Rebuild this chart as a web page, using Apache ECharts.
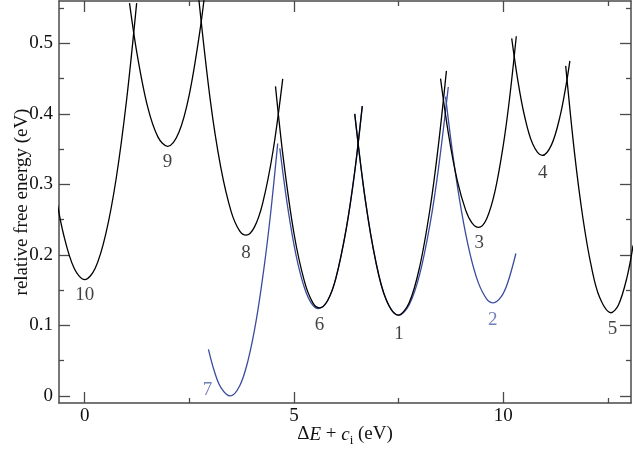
<!DOCTYPE html>
<html><head><meta charset="utf-8">
<script src="https://cdn.jsdelivr.net/npm/echarts@6/dist/echarts.min.js"></script>
<style>html,body{margin:0;padding:0;background:#fff}#c{width:634px;height:452px}</style>
</head><body><div id="c"></div>
<script>
const xMajorTicks = [0, 5, 10];
const xMinorTicks = [2.5, 7.5, 12.5];
const yMajorTicks = [0, 0.1, 0.2, 0.3, 0.4, 0.5];
const yMinorTicks = [0.05, 0.15, 0.25, 0.35, 0.45, 0.55];

// black parabolas
const curve10 = [[-0.7,0.2875],[-0.5,0.2275],[-0.25,0.1806],[0,0.165],[0.25,0.181],[0.5,0.229],[0.75,0.308],[1.0,0.420],[1.24,0.557]];
const curve9 = [[1.07,0.557],[1.25,0.485],[1.5,0.4105],[1.75,0.367],[1.98,0.354],[2.25,0.374],[2.5,0.428],[2.75,0.517],[2.9,0.587]];
const curve8 = [[2.7,0.577],[3.0,0.419],[3.25,0.324],[3.5,0.261],[3.7,0.234],[3.856,0.228],[4.05,0.239],[4.25,0.273],[4.5,0.348],[4.73,0.4495]];
const curve6 = [[4.557,0.439],[4.75,0.334],[5.0,0.230],[5.25,0.162],[5.45,0.132],[5.61,0.125],[5.8,0.135],[6.0,0.167],[6.25,0.238],[6.45,0.318],[6.63,0.411]];
const curve1 = [[6.45,0.40],[6.7,0.279],[6.95,0.1915],[7.2,0.1367],[7.49,0.1145],[7.75,0.1322],[8.0,0.1827],[8.25,0.2658],[8.45,0.356],[8.64,0.461]];
const curve3 = [[8.5,0.450],[8.7,0.3675],[8.9,0.3053],[9.1,0.2635],[9.25,0.2455],[9.41,0.239],[9.6,0.251],[9.8,0.290],[10.0,0.356],[10.15,0.4225],[10.31,0.510]];
const curve4 = [[10.2,0.507],[10.35,0.446],[10.5,0.3987],[10.7,0.3575],[10.93,0.341],[11.15,0.356],[11.35,0.3953],[11.5,0.441],[11.59,0.475]];
const curve5 = [[11.49,0.468],[11.7,0.345],[11.9,0.2527],[12.1,0.1843],[12.3,0.1399],[12.57,0.118],[12.75,0.129],[12.95,0.1671],[13.1,0.2135]];

// blue parabolas
const blue7 = [[2.955,0.066],[3.1,0.0343],[3.25,0.0123],[3.474,0],[3.7,0.0141],[3.9,0.0502],[4.1,0.1085],[4.3,0.1895],[4.45,0.264],[4.61,0.358]];
const blue6 = [[4.66,0.351],[4.85,0.267],[5.05,0.199],[5.25,0.153],[5.42,0.131],[5.58,0.124],[5.8,0.135],[6.0,0.167],[6.25,0.238],[6.45,0.318],[6.63,0.411]];
const blue1 = [[6.45,0.40],[6.7,0.279],[6.95,0.1915],[7.2,0.1367],[7.5,0.1145],[7.75,0.129],[8.0,0.172],[8.25,0.244],[8.45,0.3224],[8.685,0.438]];
const blue2 = [[8.62,0.4244],[8.8,0.3394],[9.0,0.262],[9.2,0.2026],[9.4,0.161],[9.6,0.1378],[9.76,0.132],[9.95,0.1407],[10.1,0.1597],[10.3,0.202]];

// curve labels
const blackLabelNames = ['10','9','8','6','1','3','4','5'];
const blackLabelPos = [[0.0,0.143],[1.98,0.332],[3.855,0.203],[5.61,0.100],[7.51,0.0885],[9.426,0.217],[10.94,0.316],[12.61,0.095]];
const blueLabelNames = ['7','2'];
const blueLabelPos = [[2.93,0.0087],[9.75,0.107]];

const X_MIN = -0.615, X_MAX = 13.05, Y_MIN = -0.01, Y_MAX = 0.56;
const AXIS_COLOR = '#4a4a4a';
const FONT = '"Liberation Serif", "DejaVu Serif", serif';
const FS = 19;
const BLUE = '#3b4c9e';
const BLUE_TEXT = '#4e5fa9';

function xAx(pos, ticks, len, labels, line) {
  return {
    type: 'value', position: pos, min: X_MIN, max: X_MAX,
    axisLine: {show: line, onZero: false, lineStyle: {color: AXIS_COLOR, width: 1.5}},
    axisTick: {show: true, inside: true, length: len, customValues: ticks, lineStyle: {color: AXIS_COLOR, width: 1.3}},
    axisLabel: labels ? {show: true, customValues: ticks, margin: 4, color: '#111', fontSize: FS, fontFamily: FONT} : {show: false},
    splitLine: {show: false}
  };
}
function yAx(pos, ticks, len, labels, line) {
  return {
    type: 'value', position: pos, min: Y_MIN, max: Y_MAX,
    axisLine: {show: line, onZero: false, lineStyle: {color: AXIS_COLOR, width: 1.5}},
    axisTick: {show: true, inside: true, length: len, customValues: ticks, lineStyle: {color: AXIS_COLOR, width: 1.3}},
    axisLabel: labels ? {show: true, customValues: ticks, margin: 6, color: '#111', fontSize: FS, fontFamily: FONT} : {show: false},
    splitLine: {show: false}
  };
}

const xAxes = [
  xAx('bottom', xMajorTicks, 11, true, true),
  xAx('bottom', xMinorTicks, 5, false, false),
  xAx('top', xMajorTicks, 11, false, true),
  xAx('top', xMinorTicks, 5, false, false)
];
xAxes[0].name = '{d|Δ}{i|E}{n| + }{i|c}{s|i}{n| (eV)}';
xAxes[0].nameLocation = 'middle';
xAxes[0].nameGap = 19;
xAxes[0].nameMoveOverlap = false;
xAxes[0].nameTextStyle = {
  color: '#111', fontSize: FS, fontFamily: FONT,
  rich: {
    d: {fontSize: FS, fontFamily: FONT, color: '#111', lineHeight: 20},
    i: {fontSize: FS, fontFamily: FONT, fontStyle: 'italic', color: '#111', lineHeight: 20},
    n: {fontSize: FS, fontFamily: FONT, color: '#111', lineHeight: 20},
    s: {fontSize: 13, fontFamily: FONT, color: '#111', lineHeight: 25, verticalAlign: 'bottom'}
  }
};
const yAxes = [
  yAx('left', yMajorTicks, 11, true, true),
  yAx('left', yMinorTicks, 5, false, false),
  yAx('right', yMajorTicks, 11, false, true),
  yAx('right', yMinorTicks, 5, false, false)
];
yAxes[0].name = 'relative free energy (eV)';
yAxes[0].nameLocation = 'middle';
yAxes[0].nameGap = 27;
yAxes[0].nameMoveOverlap = false;
yAxes[0].nameTextStyle = {color: '#111', fontSize: FS, fontFamily: FONT};

function lineSeries(data, color) {
  return {
    type: 'line', data: data, xAxisIndex: 0, yAxisIndex: 0,
    smooth: 0.35, showSymbol: false, symbol: 'none', clip: true,
    lineStyle: {color: color, width: 1.3}, silent: true, z: color === BLUE ? 2 : 3
  };
}
function labelSeries(names, pos, color) {
  return {
    type: 'scatter', xAxisIndex: 0, yAxisIndex: 0, symbolSize: 1,
    itemStyle: {color: 'rgba(0,0,0,0)'},
    data: names.map((n, i) => ({name: n, value: pos[i]})),
    label: {show: true, position: 'inside', formatter: p => p.name, color: color, fontSize: FS, fontFamily: FONT},
    silent: true, z: 5
  };
}

const chart = echarts.init(document.getElementById('c'), null, {renderer: 'canvas'});
chart.setOption({
  animation: false,
  backgroundColor: '#fff',
  grid: {left: 59, right: 3, top: 1, bottom: 49, containLabel: false, outerBoundsMode: 'none'},
  xAxis: xAxes,
  yAxis: yAxes,
  series: [
    lineSeries(blue7, BLUE), lineSeries(blue6, BLUE), lineSeries(blue1, BLUE), lineSeries(blue2, BLUE),
    lineSeries(curve10, '#000'), lineSeries(curve9, '#000'), lineSeries(curve8, '#000'), lineSeries(curve6, '#000'),
    lineSeries(curve1, '#000'), lineSeries(curve3, '#000'), lineSeries(curve4, '#000'), lineSeries(curve5, '#000'),
    labelSeries(blackLabelNames, blackLabelPos, '#111'),
    labelSeries(blueLabelNames, blueLabelPos, BLUE_TEXT)
  ]
});
</script>
</body></html>
